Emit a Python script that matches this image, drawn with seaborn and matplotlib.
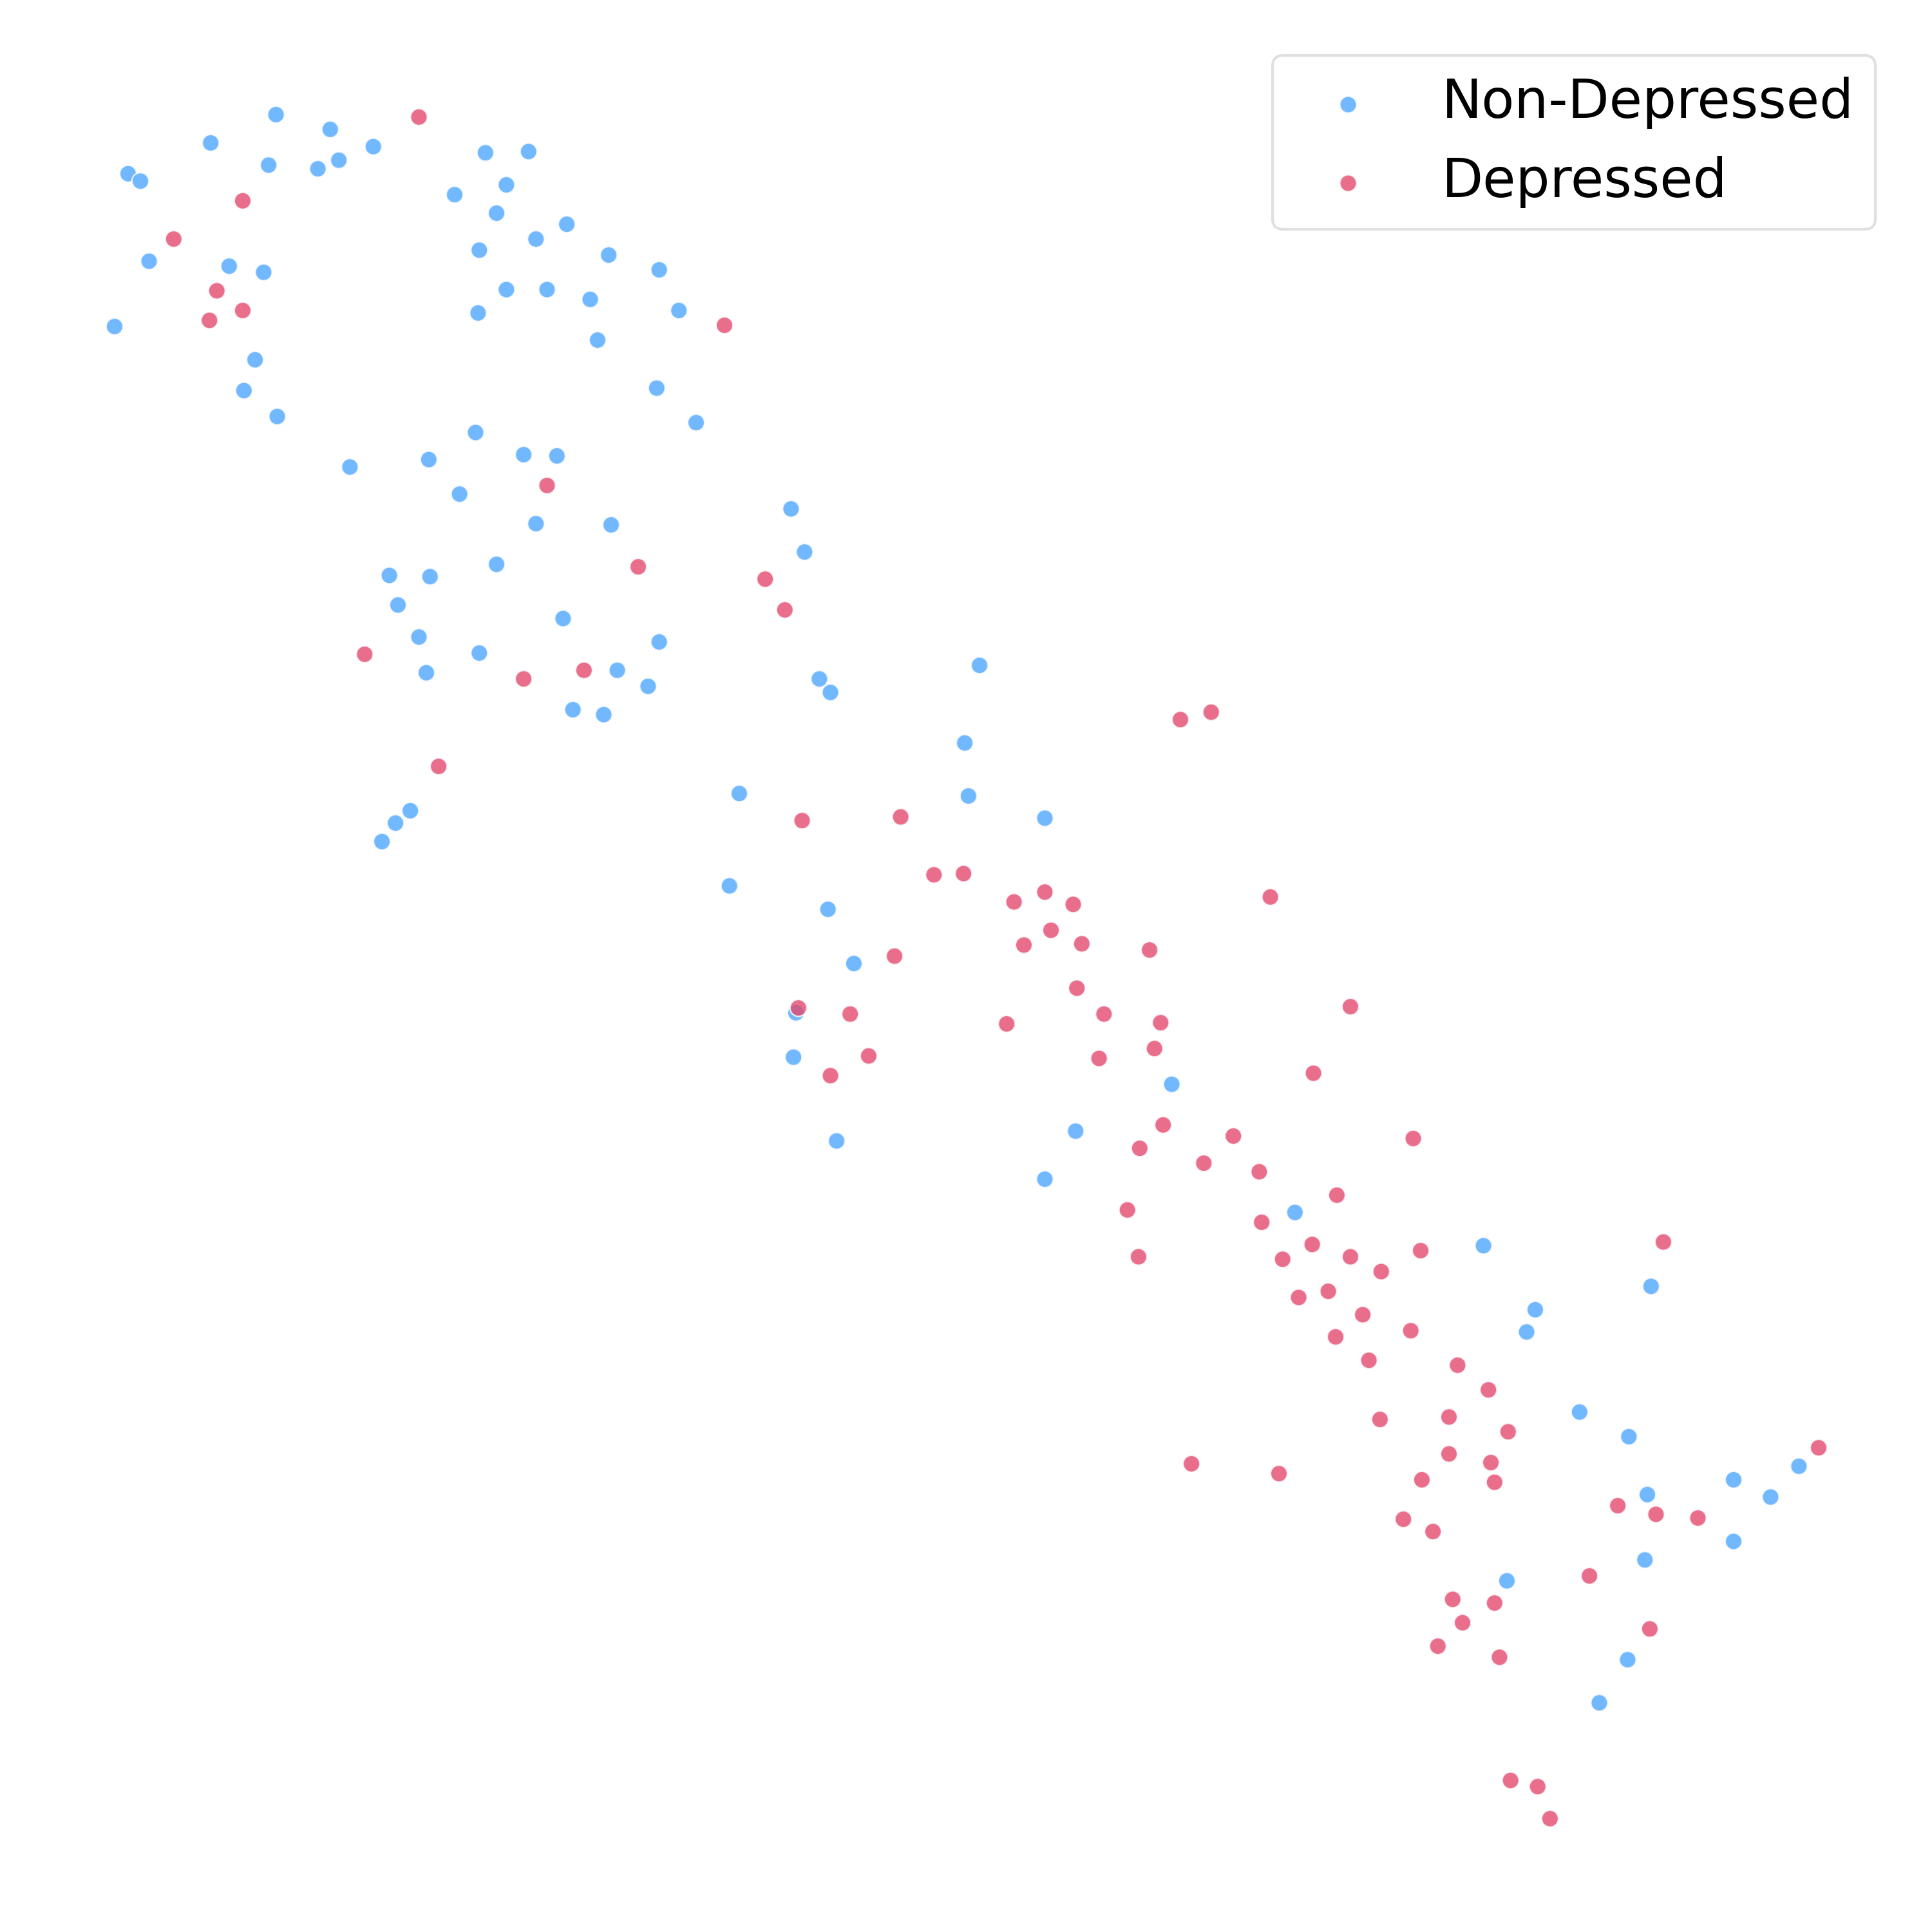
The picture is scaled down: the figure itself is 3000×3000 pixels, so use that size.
import matplotlib
matplotlib.use("Agg")
import matplotlib.pyplot as plt
import seaborn as sns
import pandas as pd

# Coordinates (arbitrary embedding units, y downward)
nd_x = [223, 267, 170, 302, 393, 428, 103, 113, 217, 257, 274, 368, 410, 402, 459, 434, 388, 493, 534, 120,
        185, 213, 410, 443, 478, 387, 550, 92, 484, 206, 197, 532, 224, 564, 385, 283, 347, 424, 451, 372,
        434, 495, 641, 652, 402, 315, 348, 322, 456, 339, 388, 534, 345, 500, 525, 464, 489, 664, 673, 794,
        782, 599, 785, 847, 332, 320, 309, 591, 671, 692, 645, 643, 678, 950, 872, 847, 1050, 1203, 1245, 1339,
        1238, 1281, 1321, 1336, 1406, 1436, 1459, 1406, 1334, 1222, 1320, 1297]
nd_y = [92, 104, 115, 118, 123, 122, 140, 146, 133, 136, 129, 157, 149, 172, 181, 193, 202, 206, 218, 211,
        215, 220, 234, 234, 242, 253, 251, 264, 275, 291, 316, 314, 337, 342, 350, 378, 372, 368, 369, 400,
        424, 425, 412, 447, 457, 466, 467, 490, 501, 516, 529, 520, 545, 543, 556, 575, 579, 550, 561, 539,
        602, 643, 645, 663, 657, 667, 682, 718, 737, 781, 821, 857, 925, 879, 917, 956, 983, 1010, 1062, 1043,
        1080, 1145, 1165, 1212, 1200, 1214, 1189, 1250, 1265, 1282, 1346, 1381]

d_x = [339, 196, 140, 175, 169, 196, 587, 443, 517, 620, 636, 295, 424, 473, 355, 957, 982, 650, 730, 757,
       781, 1030, 822, 847, 870, 852, 830, 877, 932, 725, 873, 647, 689, 816, 895, 941, 704, 936, 891, 673,
       1065, 1095, 943, 924, 1000, 1146, 976, 1021, 1084, 914, 1023, 923, 1040, 1064, 1095, 1120, 1152, 1349, 1053, 1077,
       1105, 1083, 1144, 1110, 1182, 1207, 1119, 1175, 1223, 1175, 1209, 966, 1037, 1153, 1212, 1312, 1343, 1377, 1475, 1138,
       1162, 1289, 1178, 1212, 1186, 1338, 1166, 1216, 1225, 1247, 1257]
d_y = [94, 162, 193, 235, 259, 251, 263, 393, 459, 469, 494, 530, 550, 543, 621, 583, 577, 665, 662, 709,
       708, 727, 731, 723, 733, 754, 766, 765, 770, 775, 801, 817, 822, 830, 822, 829, 856, 850, 858, 872,
       870, 816, 912, 931, 921, 923, 943, 950, 969, 981, 991, 1019, 1021, 1009, 1019, 1031, 1014, 1007, 1052, 1047,
       1066, 1084, 1079, 1103, 1107, 1127, 1151, 1149, 1161, 1179, 1186, 1187, 1195, 1200, 1202, 1221, 1228, 1231, 1174, 1232,
       1242, 1278, 1297, 1300, 1316, 1321, 1335, 1344, 1444, 1449, 1475]

labels = ["Non-Depressed", "Depressed"]
colors = ["#4DA6FF", "#E34A6F"]

df = pd.DataFrame({
    "x": nd_x + d_x,
    "y": nd_y + d_y,
    "group": [labels[0]] * len(nd_x) + [labels[1]] * len(d_x),
})

sns.set_style("white")
fig = plt.figure(figsize=(10, 10), dpi=300)
ax = fig.add_axes([0, 0, 1, 1])
sns.scatterplot(data=df, x="x", y="y", hue="group", hue_order=labels,
                palette=colors, s=40, alpha=0.8, edgecolor="white", linewidth=0.6, ax=ax)
ax.set_xlim(-1, 1567)
ax.set_ylim(1567, -1)
ax.axis("off")
leg = ax.legend(loc="upper right", bbox_to_anchor=(0.9707, 0.9713), bbox_transform=fig.transFigure,
                borderaxespad=0, fontsize=20, handletextpad=0.75, frameon=True,
                borderpad=0.4, labelspacing=0.5, markerscale=1.0, labelcolor="black",
                handleheight=0.1)
leg.get_frame().set_edgecolor("#d9d9d9")
fig.savefig("out.png", dpi=300)
